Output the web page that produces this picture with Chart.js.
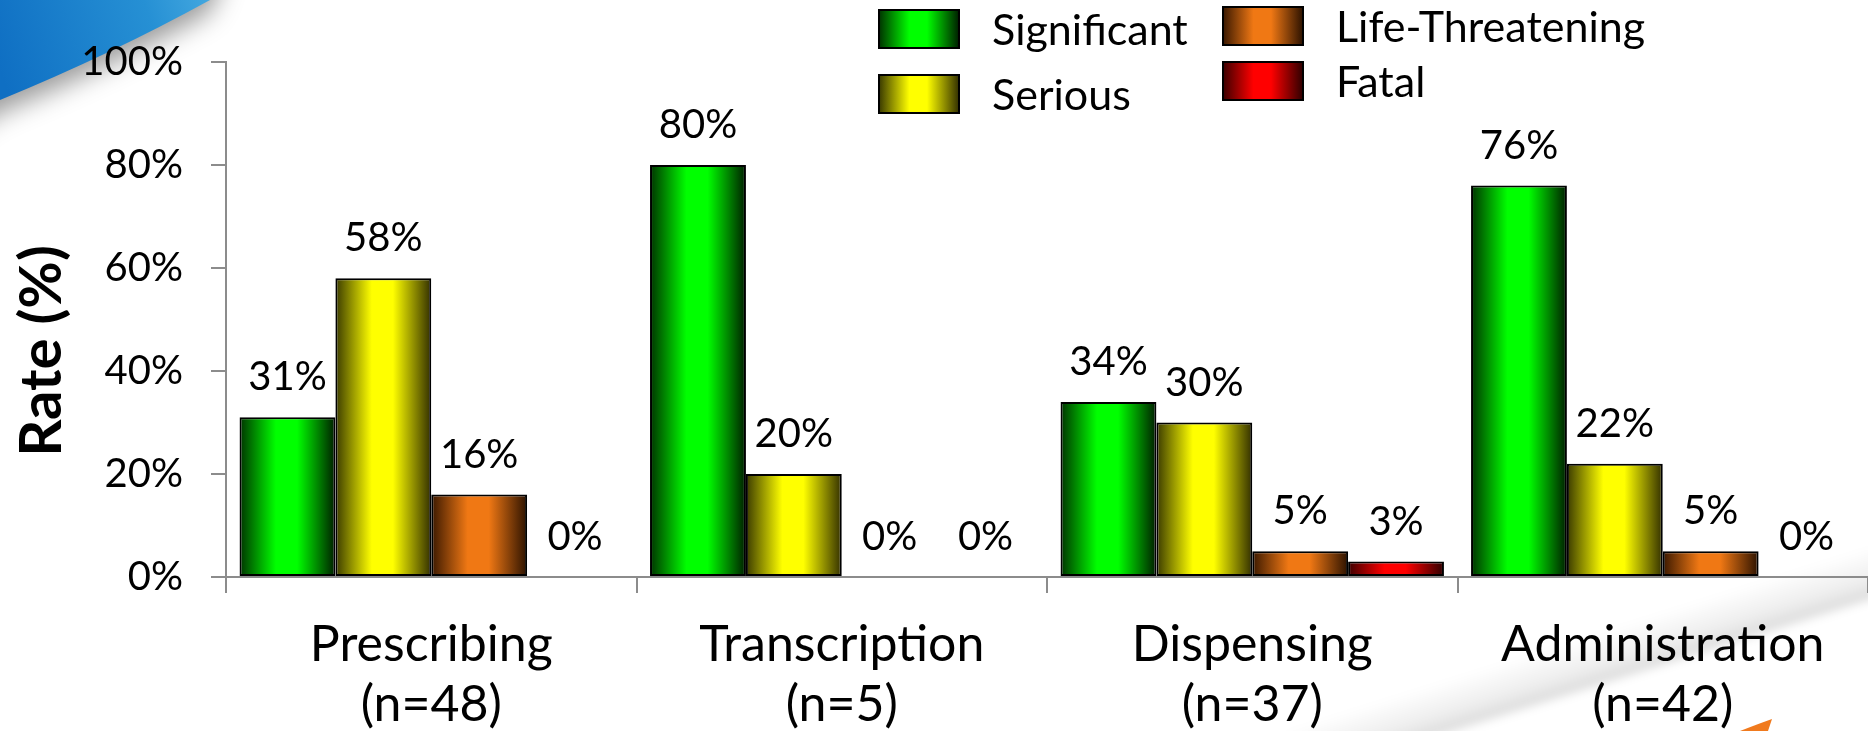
<!DOCTYPE html>
<html>
<head>
<meta charset="utf-8">
<script src="https://cdn.jsdelivr.net/npm/chart.js"></script>
<style>
  html, body { margin: 0; padding: 0; background: #fff; overflow: hidden; }
  #wrap { width: 1868px; height: 731px; position: relative; }
</style>
</head>
<body>
<div id="wrap"><canvas id="rateChart"></canvas></div>
<script>
// Error rates by stage and severity
const categories = [
    ['Prescribing', '(n=48)'],
    ['Transcription', '(n=5)'],
    ['Dispensing', '(n=37)'],
    ['Administration', '(n=42)']
];
const seriesNames = ['Significant', 'Serious', 'Life-Threatening', 'Fatal'];
const significant = [31, 80, 34, 76];
const serious = [58, 20, 30, 22];
const lifeThreatening = [16, 0, 5, 5];
const fatal = [0, 0, 3, 0];
const yTicks = [0, 20, 40, 60, 80, 100];

// dark edge -> bright middle -> dark edge
const shades = [
    ['#003300', '#00ff00', '#001e00'],
    ['#3a3a00', '#ffff00', '#333000'],
    ['#3a1800', '#f07814', '#2c1200'],
    ['#3c0000', '#ff0000', '#2e0000']
];

const FONT = 'Lato, "Open Sans", sans-serif';
const AXIS_GREY = '#8c8c8c';

function barGradient(ctx, x0, x1, s) {
    const g = ctx.createLinearGradient(x0, 0, x1, 0);
    g.addColorStop(0, s[0]);
    g.addColorStop(0.38, s[1]);
    g.addColorStop(0.6, s[1]);
    g.addColorStop(1, s[2]);
    return g;
}

// Slide decoration behind the chart
const backdrop = {
    id: 'backdrop',
    beforeDraw(chart) {
        const ctx = chart.ctx;
        ctx.save();
        ctx.fillStyle = '#fff';
        ctx.fillRect(0, 0, chart.width, chart.height);

        // blue swoosh top-left
        ctx.save();
        ctx.shadowColor = 'rgba(0,0,0,0.4)';
        ctx.shadowBlur = 26;
        ctx.shadowOffsetY = 12;
        const bg = ctx.createLinearGradient(0, 70, 215, 0);
        bg.addColorStop(0, '#0f6fc3');
        bg.addColorStop(0.7, '#2690d4');
        bg.addColorStop(1, '#45a9e0');
        ctx.fillStyle = bg;
        ctx.beginPath();
        ctx.moveTo(-40, -40);
        ctx.lineTo(225, -40);
        ctx.lineTo(210, 0);
        ctx.quadraticCurveTo(112, 54, 0, 100);
        ctx.lineTo(-40, 125);
        ctx.closePath();
        ctx.fill();
        ctx.restore();

        // grey page curl bottom-right
        ctx.save();
        ctx.filter = 'blur(5px)';
        const ax = 1900, ay = 590, bx = 1300, by = 779;
        const nx = -0.30, ny = -0.953, depth = 50;
        const mx = (ax + bx) / 2, my = (ay + by) / 2;
        const cg = ctx.createLinearGradient(mx, my, mx + nx * depth, my + ny * depth);
        cg.addColorStop(0, 'rgba(0,0,0,0.15)');
        cg.addColorStop(0.35, 'rgba(0,0,0,0.07)');
        cg.addColorStop(1, 'rgba(0,0,0,0)');
        ctx.fillStyle = cg;
        ctx.beginPath();
        ctx.moveTo(ax, ay);
        ctx.lineTo(bx, by);
        ctx.lineTo(bx + nx * depth, by + ny * depth);
        ctx.lineTo(ax + nx * depth, ay + ny * depth);
        ctx.closePath();
        ctx.fill();
        ctx.restore();

        // orange tip
        ctx.fillStyle = '#f07a1e';
        ctx.beginPath();
        ctx.moveTo(1740, 731);
        ctx.quadraticCurveTo(1758, 724, 1772, 719);
        ctx.lineTo(1768, 731);
        ctx.closePath();
        ctx.fill();
        ctx.restore();
    }
};

// Horizontal gradient on each bar
const barShading = {
    id: 'barShading',
    beforeDatasetsDraw(chart) {
        const ctx = chart.ctx;
        chart.data.datasets.forEach((ds, i) => {
            chart.getDatasetMeta(i).data.forEach(el => {
                el.options.backgroundColor = barGradient(ctx, el.x - el.width / 2, el.x + el.width / 2, shades[i]);
            });
        });
    }
};

// Value labels above bars
const valueLabels = {
    id: 'valueLabels',
    afterDatasetsDraw(chart) {
        const ctx = chart.ctx;
        ctx.save();
        ctx.font = '40px ' + FONT;
        ctx.fillStyle = '#000';
        ctx.textAlign = 'center';
        ctx.textBaseline = 'alphabetic';
        chart.data.datasets.forEach((ds, i) => {
            chart.getDatasetMeta(i).data.forEach((el, j) => {
                ctx.fillText(ds.data[j] + '%', el.x, el.y - 27);
            });
        });
        ctx.restore();
    }
};

// Two-column legend and rotated axis title
const legendCols = [879, 1223];
const legendRows = [[10, 75], [7, 62]];
const chrome = {
    id: 'chrome',
    afterDraw(chart) {
        const ctx = chart.ctx;
        ctx.save();
        ctx.font = '43px ' + FONT;
        ctx.textBaseline = 'middle';
        ctx.textAlign = 'left';
        chart.data.datasets.forEach((ds, i) => {
            const col = Math.floor(i / 2), row = i % 2;
            const x = legendCols[col], y = legendRows[col][row];
            const w = 80, h = 38;
            ctx.fillStyle = barGradient(ctx, x, x + w, shades[i]);
            ctx.fillRect(x, y, w, h);
            ctx.strokeStyle = '#000';
            ctx.lineWidth = 2;
            ctx.strokeRect(x, y, w, h);
            ctx.fillStyle = '#000';
            ctx.fillText(ds.label, x + 113, y + h / 2 + 2);
        });

        ctx.translate(42, 351);
        ctx.rotate(-Math.PI / 2);
        ctx.font = 'bold 58px ' + FONT;
        ctx.textAlign = 'center';
        ctx.fillText('Rate (%)', 0, 0);
        ctx.restore();
    }
};

const seriesData = [significant, serious, lifeThreatening, fatal];

new Chart(document.getElementById('rateChart'), {
    type: 'bar',
    data: {
        labels: categories,
        datasets: seriesNames.map((name, i) => ({
            label: name,
            data: seriesData[i],
            backgroundColor: ctx => shades[ctx.datasetIndex][1],
            borderColor: '#000',
            borderWidth: 2,
            borderSkipped: false,
            categoryPercentage: 0.934,
            barPercentage: 1.0
        }))
    },
    options: {
        responsive: true,
        maintainAspectRatio: false,
        animation: false,
        events: [],
        layout: { padding: { top: 62, right: 0, bottom: 0, left: 0 } },
        plugins: {
            legend: { display: false },
            tooltip: { enabled: false }
        },
        scales: {
            x: {
                afterFit: s => { s.height = 154; },
                grid: { drawOnChartArea: false, drawTicks: true, tickLength: 16, color: AXIS_GREY, lineWidth: 2, offset: true },
                border: { color: AXIS_GREY, width: 2 },
                ticks: {
                    color: '#000',
                    padding: 22,
                    maxRotation: 0,
                    autoSkip: false,
                    font: { family: FONT, size: 50, lineHeight: 1.2 }
                }
            },
            y: {
                min: 0,
                max: 100,
                afterFit: s => { s.width = 226; },
                afterBuildTicks: s => { s.ticks = yTicks.map(v => ({ value: v })); },
                grid: { drawOnChartArea: false, drawTicks: true, tickLength: 15, color: AXIS_GREY, lineWidth: 2 },
                border: { color: AXIS_GREY, width: 2 },
                ticks: {
                    color: '#000',
                    padding: 28,
                    font: { family: FONT, size: 40 },
                    callback: v => v + '%'
                }
            }
        }
    },
    plugins: [backdrop, barShading, valueLabels, chrome]
});
</script>
</body>
</html>
